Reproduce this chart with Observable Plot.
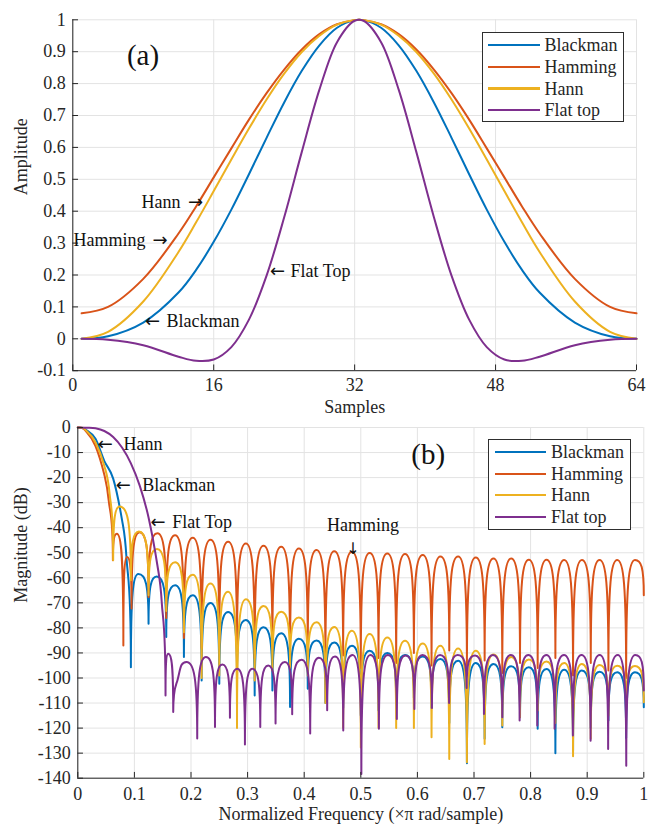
<!DOCTYPE html>
<html>
<head>
<meta charset="utf-8">
<script src="https://cdn.jsdelivr.net/npm/d3@7"></script>
<script src="https://cdn.jsdelivr.net/npm/@observablehq/plot@0.6"></script>
<style>
  body { margin: 0; background: #fff; }
  #wrap { position: relative; width: 648px; height: 828px; font-family: "Liberation Serif", "DejaVu Serif", serif; color: #262626; background: #fff; }
  .panel { position: absolute; left: 0; }
  .legend { position: absolute; border: 1px solid #2e2e2e; background: #fff; box-sizing: border-box; }
  .legend .row { position: absolute; left: 0; height: 20px; display: flex; align-items: center; white-space: nowrap; }
  .legend .swatch { display: inline-block; height: 2.2px; }
  .legend .lab { font-size: 18px; line-height: 20px; font-family: "Liberation Serif", "DejaVu Serif", serif; }
</style>
</head>
<body>
<div id="wrap">
  <div id="panelA" class="panel" style="top:0"></div>
  <div id="panelB" class="panel" style="top:414px"></div>
</div>
<script>
// ---------------- DATA ----------------
const seriesNames = ["Blackman", "Hamming", "Hann", "Flat top"];

// (a) window amplitudes vs sample index
const samples = [1, 4, 8, 12, 14, 16, 18, 20, 22, 24, 26, 28, 30, 32, 33, 35, 37, 39, 41, 43, 45, 47, 49, 51, 53, 57, 61, 64];
const blackmanWin = [0, 0.008, 0.051, 0.145, 0.216, 0.304, 0.405, 0.516, 0.630, 0.741, 0.840, 0.920, 0.975, 0.999, 0.999, 0.975, 0.920, 0.840, 0.741, 0.630, 0.516, 0.405, 0.304, 0.216, 0.145, 0.051, 0.008, 0];
const hammingWin = [0.08, 0.100, 0.188, 0.330, 0.415, 0.506, 0.597, 0.687, 0.770, 0.844, 0.907, 0.955, 0.986, 0.999, 0.999, 0.986, 0.955, 0.907, 0.844, 0.770, 0.687, 0.597, 0.506, 0.415, 0.330, 0.188, 0.100, 0.08];
const hannWin = [0, 0.022, 0.117, 0.272, 0.365, 0.463, 0.562, 0.659, 0.750, 0.831, 0.899, 0.950, 0.985, 0.999, 0.999, 0.985, 0.950, 0.899, 0.831, 0.750, 0.659, 0.562, 0.463, 0.365, 0.272, 0.117, 0.022, 0];
const flatTopWin = [0, -0.003, -0.020, -0.056, -0.069, -0.065, -0.026, 0.060, 0.198, 0.381, 0.586, 0.781, 0.930, 0.997, 0.997, 0.930, 0.781, 0.586, 0.381, 0.198, 0.060, -0.026, -0.065, -0.069, -0.056, -0.020, -0.003, 0];

const xTicksA = [0, 16, 32, 48, 64];
const yTicksA = [-0.1, 0, 0.1, 0.2, 0.3, 0.4, 0.5, 0.6, 0.7, 0.8, 0.9, 1];

// (b) magnitude responses: lobe peaks and nulls
const blackmanFreq = [0, 0.0156, 0.0313, 0.0469, 0.0625, 0.0781, 0.0859, 0.0938, 0.107, 0.125, 0.1395, 0.1563, 0.172, 0.1875,
  0.2031, 0.2188, 0.2344, 0.25, 0.2656, 0.2813, 0.2969, 0.3125, 0.3281, 0.3438, 0.3594, 0.375, 0.3906, 0.4063, 0.4219, 0.4375,
  0.4531, 0.4688, 0.4844, 0.5, 0.5156, 0.5313, 0.5469, 0.5625, 0.5781, 0.5938, 0.6094, 0.625, 0.6406, 0.6563, 0.6719, 0.6875,
  0.7031, 0.7188, 0.7344, 0.75, 0.7656, 0.7813, 0.7969, 0.8125, 0.8281, 0.8438, 0.8594, 0.875, 0.8906, 0.9063, 0.9219, 0.9375,
  0.9531, 0.9688, 0.9844, 1];
const blackmanDb = [0, -1.1, -4.5, -13.4, -20.4, -36.9, -51.7, -95.7, -58.5, -78.3, -59.5, -83.6, -63, -91.6,
  -67, -101, -70.1, -102.3, -73.7, -100, -76.8, -107, -79.7, -105, -82.1, -111.6, -84.3, -104.3, -85, -110,
  -85.8, -112, -87.1, -115, -89.1, -113, -90, -110, -90.8, -108, -91.4, -112, -92.4, -118, -93.1, -134,
  -94, -124.3, -94.4, -119.7, -95.3, -115.7, -95.7, -120.3, -96.4, -130, -96.7, -129, -97, -120, -97.5, -117,
  -97.7, -124, -97.7, -111.7];

const hammingFreq = [0, 0.0156, 0.0313, 0.0469, 0.0547, 0.062, 0.069, 0.0805, 0.087, 0.095, 0.109, 0.125, 0.1406, 0.1563, 0.1719, 0.1875,
  0.2031, 0.2188, 0.2344, 0.25, 0.2656, 0.2813, 0.2969, 0.3125, 0.3281, 0.3438, 0.3594, 0.375, 0.3906, 0.4063, 0.4219, 0.4375,
  0.4531, 0.4688, 0.4844, 0.5, 0.5156, 0.5313, 0.5469, 0.5625, 0.5781, 0.5938, 0.6094, 0.625, 0.6406, 0.6563, 0.6719, 0.6875,
  0.7031, 0.7188, 0.7344, 0.75, 0.7656, 0.7813, 0.7969, 0.8125, 0.8281, 0.8438, 0.8594, 0.875, 0.8906, 0.9063, 0.9219, 0.9375,
  0.9531, 0.9688, 0.9844, 1];
const hammingDb = [0, -1.8, -7.4, -18.9, -29.3, -53, -42.4, -87, -51.7, -72.3, -41.8, -67.7, -42.2, -76, -43, -84,
  -44, -88, -44.8, -86, -45.6, -90, -46.3, -92, -47.2, -88, -47.6, -93, -48.3, -90, -48.9, -95,
  -49.4, -91, -49.6, -96, -50.1, -92, -50.3, -94, -50.5, -90, -50.9, -95, -51.5, -89, -51.5, -97,
  -51.9, -93, -52.3, -98, -52.3, -94, -52.8, -96, -52.8, -92, -52.9, -99, -52.9, -94, -52.9, -97,
  -52.9, -100, -52.9, -67];

const hannFreq = [0, 0.0156, 0.0313, 0.0469, 0.0563, 0.0625, 0.074, 0.0938, 0.108, 0.125, 0.14, 0.1563, 0.172, 0.1875,
  0.2031, 0.2188, 0.2344, 0.25, 0.2656, 0.2813, 0.2969, 0.3125, 0.3281, 0.3438, 0.3594, 0.375, 0.3906, 0.4063, 0.4219, 0.4375,
  0.4531, 0.4688, 0.4844, 0.5, 0.5156, 0.5313, 0.5469, 0.5625, 0.5781, 0.5938, 0.6094, 0.625, 0.6406, 0.6563, 0.6719, 0.6875,
  0.7031, 0.7188, 0.7344, 0.75, 0.7656, 0.7813, 0.7969, 0.8125, 0.8281, 0.8438, 0.8594, 0.875, 0.8906, 0.9063, 0.9219, 0.9375,
  0.9531, 0.9688, 0.9844, 1];
const hannDb = [0, -1.4, -6, -15.4, -26.7, -53, -31.5, -61, -41.5, -67, -48.5, -73.3, -53.8, -81.7,
  -58.8, -100, -62.3, -99, -65.6, -120, -68.6, -101, -71.3, -97, -73.6, -96, -75.8, -99, -77.7, -110,
  -79.6, -120, -81.1, -127.7, -82.4, -120, -83.8, -120, -85.1, -120, -86.2, -123.7, -87.1, -132.3, -88.2, -133.6,
  -89.1, -126.3, -90.6, -119, -91.6, -115.7, -92.6, -113, -93.4, -118, -94, -131.2, -94.4, -124.3, -94.8, -115,
  -95.1, -112, -95.2, -109.7];

const flatTopFreq = [0, 0.0156, 0.0313, 0.0469, 0.0625, 0.0781, 0.0938, 0.1094, 0.125, 0.1406, 0.1484, 0.155, 0.1598, 0.1686, 0.176, 0.192,
  0.211, 0.2265, 0.2424, 0.2553, 0.2688, 0.2818, 0.2953, 0.3082, 0.3224, 0.3365, 0.3494, 0.3659, 0.3788, 0.3953, 0.4106, 0.4259, 0.4406,
  0.4544, 0.469, 0.4854, 0.501, 0.517, 0.532, 0.548, 0.5637, 0.579, 0.5947, 0.609, 0.6257, 0.64, 0.656, 0.671, 0.687, 0.702,
  0.7176, 0.7335, 0.75, 0.765, 0.7806, 0.796, 0.8118, 0.828, 0.8424, 0.859, 0.8747, 0.89, 0.906, 0.922, 0.937, 0.954, 0.969, 0.985, 1];
const flatTopDb = [0, -0.1, -0.3, -1.4, -3.8, -8, -14.3, -23.2, -35.9, -55, -70, -107, -90.3, -113.6, -101, -93.6,
  -124.2, -91.6, -119.6, -94.6, -115.9, -96.3, -126.5, -96.3, -119.6, -95, -118.2, -93.6, -114.5, -92.7, -122.2, -91.9, -112.9,
  -91.4, -121, -90.8, -138.3, -90.8, -120.3, -90.8, -116.4, -91, -112.4, -90.8, -112, -90.8, -110, -90.8, -104, -91,
  -114.4, -90.8, -115.7, -90.8, -117, -90.8, -119, -90.8, -120.3, -90.8, -123, -90.8, -125, -90.8, -128.3, -90.8, -135, -90.8, -105];

const xTicksB = [0, 0.1, 0.2, 0.3, 0.4, 0.5, 0.6, 0.7, 0.8, 0.9, 1];
const yTicksB = [-140, -130, -120, -110, -100, -90, -80, -70, -60, -50, -40, -30, -20, -10, 0];

// ---------------- STYLE / LAYOUT ----------------
const fontFamily = '"Liberation Serif", "DejaVu Serif", serif';
const arrowFont = '"DejaVu Sans", sans-serif';
const fs = 18;
const ink = "#262626";
const gridColor = "#e3e3e3";
const colors = { "Blackman": "#0072BD", "Hamming": "#D95319", "Hann": "#EDB120", "Flat top": "#7E2F8E" };

// tables built from the arrays above
const tableA = [];
[[blackmanWin, "Blackman"], [hammingWin, "Hamming"], [hannWin, "Hann"], [flatTopWin, "Flat top"]].forEach(([arr, name]) =>
  arr.forEach((v, i) => tableA.push({ series: name, x: samples[i], y: v })));
const tableB = [];
[[blackmanFreq, blackmanDb, "Blackman"], [hammingFreq, hammingDb, "Hamming"], [hannFreq, hannDb, "Hann"], [flatTopFreq, flatTopDb, "Flat top"]]
  .forEach(([fx, db, name]) => fx.forEach((f, i) => tableB.push({ series: name, f, db: db[i] })));

// curve: rounded lobe tops, sharp cusps at nulls
function lobeCurve(context) {
  let pts = null;
  return {
    areaStart() {}, areaEnd() {},
    lineStart() { pts = []; },
    point(x, y) { pts.push([+x, +y]); },
    lineEnd() {
      const n = pts.length;
      if (!n) return;
      context.moveTo(pts[0][0], pts[0][1]);
      if (n === 1) return;
      const kind = pts.map((p, i) => {
        const a = pts[i - 1], b = pts[i + 1];
        if ((!a || p[1] <= a[1]) && (!b || p[1] <= b[1])) return "peak";
        if ((!a || p[1] >= a[1]) && (!b || p[1] >= b[1])) return "null";
        return "mid";
      });
      const ctrl = (i, j) => {
        const p = pts[i], q = pts[j];
        if (kind[i] === "peak") return [p[0] + (q[0] - p[0]) * 0.7, p[1]];
        if (kind[i] === "null") return [p[0], p[1] + (q[1] - p[1]) * 0.8];
        const a = pts[i - 1], b = pts[i + 1];
        const m = (b[1] - a[1]) / (b[0] - a[0]);
        const dx = (q[0] - p[0]) / 3;
        return [p[0] + dx, p[1] + m * dx];
      };
      for (let i = 0; i < n - 1; i++) {
        const c1 = ctrl(i, i + 1), c2 = ctrl(i + 1, i);
        context.bezierCurveTo(c1[0], c1[1], c2[0], c2[1], pts[i + 1][0], pts[i + 1][1]);
      }
    }
  };
}

function seriesLines(table, xKey, yKey, curve) {
  return seriesNames.map(name => Plot.line(table.filter(d => d.series === name), {
    x: xKey, y: yKey, stroke: colors[name], strokeWidth: 2, curve
  }));
}

function notes(list) {
  return list.map(n => Plot.text([n], {
    x: "x", y: "y", text: "text", textAnchor: n.anchor, lineAnchor: "middle",
    fontSize: n.size || fs, fontFamily: n.arrow ? arrowFont : fontFamily, fill: "#111"
  }));
}

// ----- panel (a)
const notesA = [
  { text: "(a)", x: 7.97, y: 0.887, anchor: "middle", size: 29 },
  { text: "Hann", x: 12.23, y: 0.427, anchor: "end" },
  { text: "\u2192", x: 13.93, y: 0.427, anchor: "middle", arrow: true },
  { text: "Hamming", x: 8.25, y: 0.308, anchor: "end" },
  { text: "\u2192", x: 9.9, y: 0.308, anchor: "middle", arrow: true },
  { text: "\u2190", x: 23.24, y: 0.211, anchor: "middle", arrow: true },
  { text: "Flat Top", x: 24.72, y: 0.211, anchor: "start" },
  { text: "\u2190", x: 9.05, y: 0.054, anchor: "middle", arrow: true },
  { text: "Blackman", x: 10.64, y: 0.054, anchor: "start" }
];
const plotA = Plot.plot({
  width: 648, height: 414,
  marginLeft: 72.3, marginRight: 12, marginTop: 19.3, marginBottom: 43.8,
  x: { domain: [0, 64] },
  y: { domain: [-0.1, 1] },
  style: { fontFamily, fontSize: fs + "px", color: ink, background: "transparent", overflow: "visible" },
  marks: [
    Plot.gridX(xTicksA, { stroke: gridColor, strokeOpacity: 1 }),
    Plot.gridY(yTicksA, { stroke: gridColor, strokeOpacity: 1 }),
    ...seriesLines(tableA, "x", "y", "catmull-rom"),
    Plot.ruleX([0], { stroke: ink, strokeWidth: 1 }),
    Plot.ruleY([-0.1], { stroke: ink, strokeWidth: 1 }),
    Plot.ruleX(xTicksA, { y1: -0.1, y2: -0.082, stroke: ink }),
    Plot.ruleY(yTicksA, { x1: 0, x2: 0.65, stroke: ink }),
    Plot.axisX({ ticks: xTicksA, tickSize: 0, tickPadding: 8, tickFormat: d => String(d), label: null, fontFamily, fontSize: fs }),
    Plot.axisY({ ticks: yTicksA, tickSize: 0, tickPadding: 7, tickFormat: d => String(d), label: null, fontFamily, fontSize: fs }),
    Plot.text(["Samples"], { text: d => d, frameAnchor: "bottom", dy: 42, fontSize: fs, fontFamily }),
    Plot.text(["Amplitude"], { text: d => d, frameAnchor: "left", dx: -52, rotate: -90, fontSize: fs, fontFamily }),
    ...notes(notesA)
  ]
});
document.getElementById("panelA").appendChild(plotA);

// ----- panel (b)
const notesB = [
  { text: "(b)", x: 0.619, y: -10.8, anchor: "middle", size: 29 },
  { text: "\u2190", x: 0.0484, y: -6.5, anchor: "middle", arrow: true },
  { text: "Hann", x: 0.0807, y: -6.5, anchor: "start" },
  { text: "\u2190", x: 0.0806, y: -23.1, anchor: "middle", arrow: true },
  { text: "Blackman", x: 0.1138, y: -23.1, anchor: "start" },
  { text: "\u2190", x: 0.1417, y: -38, anchor: "middle", arrow: true },
  { text: "Flat Top", x: 0.1668, y: -38, anchor: "start" },
  { text: "Hamming", x: 0.504, y: -39, anchor: "middle" },
  { text: "\u2193", x: 0.486, y: -48.6, anchor: "middle", arrow: true, size: 16 }
];
const plotB = Plot.plot({
  width: 648, height: 414,
  marginLeft: 77.3, marginRight: 4.7, marginTop: 13, marginBottom: 50.3,
  x: { domain: [0, 1] },
  y: { domain: [-140, 0] },
  style: { fontFamily, fontSize: fs + "px", color: ink, background: "transparent", overflow: "visible" },
  marks: [
    Plot.gridX(xTicksB, { stroke: gridColor, strokeOpacity: 1 }),
    Plot.gridY(yTicksB, { stroke: gridColor, strokeOpacity: 1 }),
    ...seriesLines(tableB, "f", "db", lobeCurve),
    Plot.ruleX([0], { stroke: ink, strokeWidth: 1 }),
    Plot.ruleY([-140], { stroke: ink, strokeWidth: 1 }),
    Plot.ruleX(xTicksB, { y1: -140, y2: -137.7, stroke: ink }),
    Plot.ruleY(yTicksB, { x1: 0, x2: 0.01, stroke: ink }),
    Plot.axisX({ ticks: xTicksB, tickSize: 0, tickPadding: 9, tickFormat: d => String(d), label: null, fontFamily, fontSize: fs }),
    Plot.axisY({ ticks: yTicksB, tickSize: 0, tickPadding: 7, tickFormat: d => String(d), label: null, fontFamily, fontSize: fs }),
    Plot.text(["Normalized Frequency (\u00d7\u03c0 rad/sample)"], { text: d => d, frameAnchor: "bottom", dy: 42, fontSize: fs, fontFamily }),
    Plot.text(["Magnitude (dB)"], { text: d => d, frameAnchor: "left", dx: -57, rotate: -90, fontSize: fs, fontFamily }),
    ...notes(notesB)
  ]
});
document.getElementById("panelB").appendChild(plotB);

// ----- legends (HTML, real text)
function legend(box) {
  const el = document.createElement("div");
  el.className = "legend";
  Object.assign(el.style, { left: box.left + "px", top: box.top + "px", width: box.width + "px", height: box.height + "px" });
  seriesNames.forEach((name, i) => {
    const row = document.createElement("div");
    row.className = "row";
    row.style.top = (box.rows[i] - 10) + "px";
    const sw = document.createElement("span");
    sw.className = "swatch";
    Object.assign(sw.style, { marginLeft: box.lineStart + "px", width: box.lineLen + "px", background: colors[name] });
    const lab = document.createElement("span");
    lab.className = "lab";
    lab.style.marginLeft = box.gap + "px";
    lab.textContent = name;
    row.appendChild(sw); row.appendChild(lab);
    el.appendChild(row);
  });
  document.getElementById("wrap").appendChild(el);
}
legend({ left: 482, top: 32, width: 142, height: 90, rows: [12, 34, 55.5, 77], lineStart: 4.5, lineLen: 52, gap: 5 });
legend({ left: 488, top: 439, width: 143, height: 91, rows: [12, 34, 55.3, 76.7], lineStart: 5.5, lineLen: 51.5, gap: 5 });
</script>
</body>
</html>
